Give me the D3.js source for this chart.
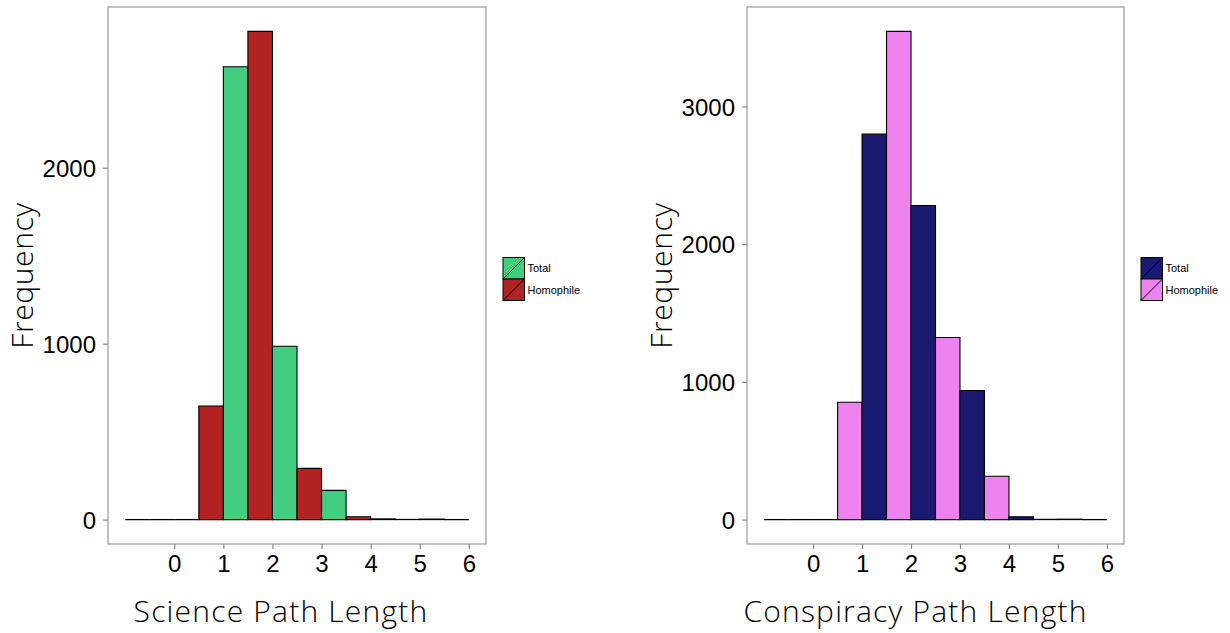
<!DOCTYPE html>
<html>
<head>
<meta charset="utf-8">
<script src="https://cdn.jsdelivr.net/npm/d3@7"></script>
<style>
  html, body { margin: 0; padding: 0; background: #fff; }
  svg { display: block; }
  .tick text { font-family: "Liberation Sans", Arial, sans-serif; fill: #000; }
  .title { font-family: "Open Sans", "Liberation Sans", sans-serif; font-weight: 300; fill: #000; }
  .legend text { font-family: "Liberation Sans", Arial, sans-serif; font-size: 11px; fill: #000; }
</style>
</head>
<body>
<svg id="chart" width="1230" height="633"></svg>
<script>
// Dodged histograms: each bin (width 1, centred on a half-integer) holds a
// "Total" half on the left and a "Homophile" half on the right.
const binCenters = [-0.5, 0.5, 1.5, 2.5, 3.5, 4.5, 5.5];
const groups = ["Total", "Homophile"];

const scienceTotal     = [0, 0, 2574, 985, 166, 4, 3];
const scienceHomophile = [0, 646, 2775, 291, 16, 1, 0];

const conspiracyTotal     = [0, 0, 2799, 2281, 937, 20, 3];
const conspiracyHomophile = [0, 852, 3545, 1322, 315, 2, 0];

const xTicks = [0, 1, 2, 3, 4, 5, 6];
const scienceYTicks = [0, 1000, 2000];
const conspiracyYTicks = [0, 1000, 2000, 3000];

const panels = [
  {
    box: { left: 108, top: 7, right: 486, bottom: 544 },
    series: [scienceTotal, scienceHomophile],
    colors: ["#43CD80", "#B22222"],
    yTicks: scienceYTicks,
    xTitle: "Science Path Length",
    yTitle: "Frequency",
    titleShift: -16,
    legendX: 503
  },
  {
    box: { left: 747, top: 7, right: 1124, bottom: 544 },
    series: [conspiracyTotal, conspiracyHomophile],
    colors: ["#191970", "#EE82EE"],
    yTicks: conspiracyYTicks,
    xTitle: "Conspiracy Path Length",
    yTitle: "Frequency",
    titleShift: -20,
    legendX: 1141
  }
];

const svg = d3.select("#chart");
const binWidth = 1;
const half = binWidth / 2;

panels.forEach(p => {
  const b = p.box;
  const g = svg.append("g");

  // Bars and their extent along x
  const bars = [];
  binCenters.forEach((c, i) => {
    p.series.forEach((vals, gi) => {
      const x0 = c - half + gi * half;
      bars.push({ x0, x1: x0 + half, value: vals[i], group: gi });
    });
  });

  const xMin = d3.min(bars, d => d.x0), xMax = d3.max(bars, d => d.x1);
  const xPad = (xMax - xMin) * 0.05;
  const x = d3.scaleLinear().domain([xMin - xPad, xMax + xPad]).range([b.left, b.right]);

  const yMax = d3.max(bars, d => d.value);
  const y = d3.scaleLinear().domain([-yMax * 0.05, yMax * 1.05]).range([b.bottom, b.top]);

  // Bars drawn as closed paths so empty bins still show the black outline
  g.selectAll("path.bar")
    .data(bars)
    .join("path")
    .attr("class", "bar")
    .attr("d", d => {
      const path = d3.path();
      path.moveTo(x(d.x0), y(0));
      path.lineTo(x(d.x0), y(d.value));
      path.lineTo(x(d.x1), y(d.value));
      path.lineTo(x(d.x1), y(0));
      path.closePath();
      return path.toString();
    })
    .attr("fill", d => p.colors[d.group])
    .attr("stroke", "#000")
    .attr("stroke-width", 1.1);

  // Panel border
  g.append("rect")
    .attr("x", b.left).attr("y", b.top)
    .attr("width", b.right - b.left).attr("height", b.bottom - b.top)
    .attr("fill", "none").attr("stroke", "#9a9a9a").attr("stroke-width", 1.2);

  // Axes
  const xAxis = g.append("g")
    .attr("transform", `translate(0,${b.bottom})`)
    .call(d3.axisBottom(x).tickValues(xTicks).tickFormat(d3.format("d")).tickSize(5).tickSizeOuter(0).tickPadding(6));
  xAxis.select(".domain").remove();
  xAxis.selectAll(".tick line").attr("stroke", "#8a8a8a").attr("stroke-width", 1.2);
  xAxis.selectAll(".tick text").attr("font-size", 24).attr("dy", "0.71em");

  const yAxis = g.append("g")
    .attr("transform", `translate(${b.left},0)`)
    .call(d3.axisLeft(y).tickValues(p.yTicks).tickFormat(d3.format("d")).tickSize(5).tickSizeOuter(0).tickPadding(7));
  yAxis.select(".domain").remove();
  yAxis.selectAll(".tick line").attr("stroke", "#8a8a8a").attr("stroke-width", 1.2);
  yAxis.selectAll(".tick text").attr("font-size", 24).attr("dy", "0.36em");

  // Titles
  g.append("text")
    .attr("class", "title")
    .attr("x", (b.left + b.right) / 2 + p.titleShift)
    .attr("y", 622)
    .attr("text-anchor", "middle")
    .attr("font-size", 30)
    .attr("letter-spacing", 1.2)
    .text(p.xTitle);

  g.append("text")
    .attr("class", "title")
    .attr("transform", `translate(${b.left - 75},${(b.top + b.bottom) / 2}) rotate(-90)`)
    .attr("text-anchor", "middle")
    .attr("font-size", 30)
    .attr("letter-spacing", 0.6)
    .text(p.yTitle);

  // Legend
  const keySize = 21.5;
  const legend = g.append("g").attr("class", "legend")
    .attr("transform", `translate(${p.legendX},257.5)`);
  groups.forEach((name, i) => {
    const k = legend.append("g").attr("transform", `translate(0,${i * keySize})`);
    k.append("rect")
      .attr("width", keySize).attr("height", keySize)
      .attr("fill", p.colors[i]).attr("stroke", "#000").attr("stroke-width", 1);
    k.append("line")
      .attr("x1", 0).attr("y1", keySize).attr("x2", keySize).attr("y2", 0)
      .attr("stroke", "#000").attr("stroke-width", 1);
    k.append("text")
      .attr("x", keySize + 3).attr("y", keySize / 2)
      .attr("dy", "0.35em")
      .text(name);
  });
});
</script>
</body>
</html>
